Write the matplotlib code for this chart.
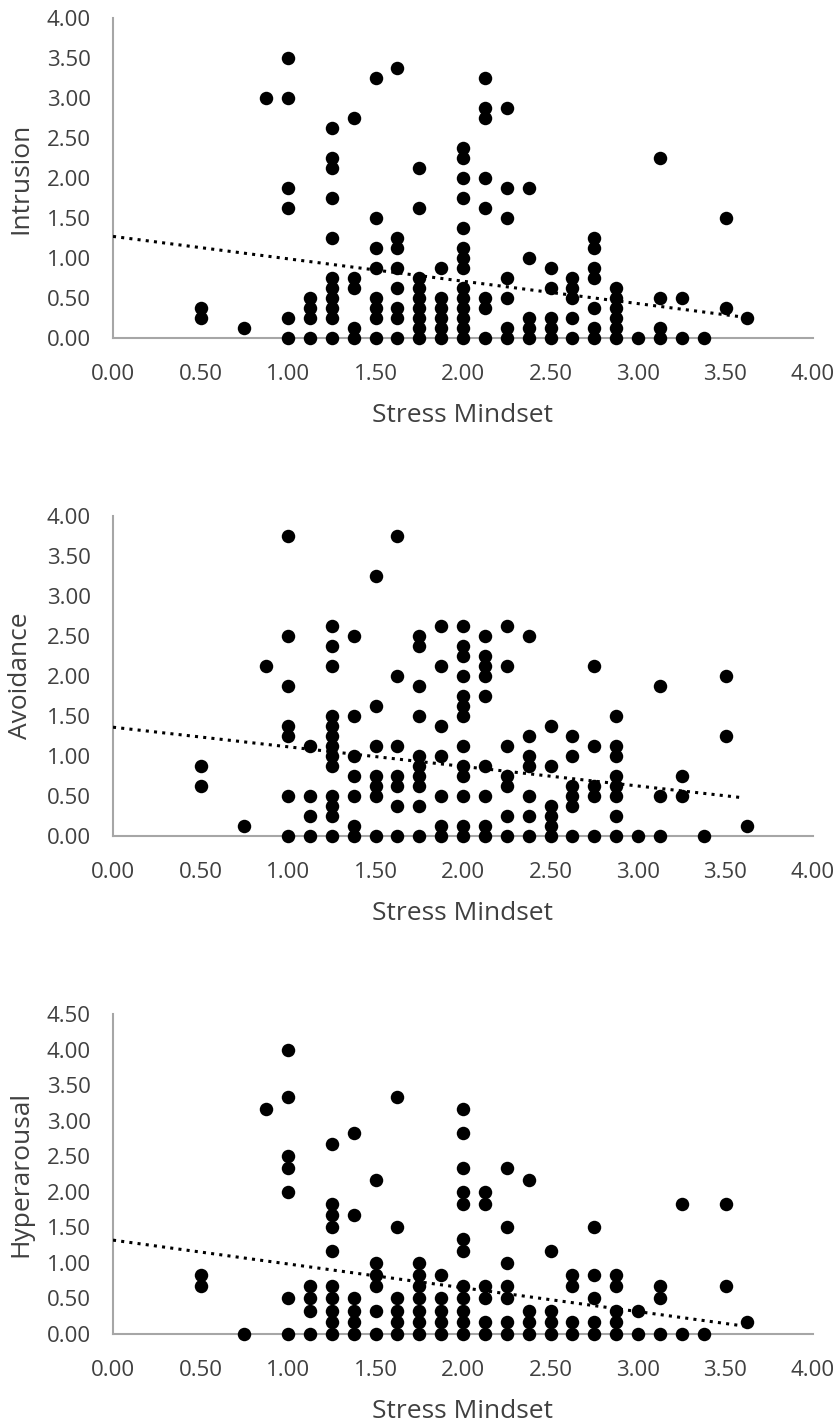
"""
Three scatter panels: Stress Mindset vs. Intrusion / Avoidance / Hyperarousal,
each with a dotted linear trendline (Excel-style).
"""
import numpy as np
import matplotlib.pyplot as plt

plt.rcParams['font.family'] = ['Open Sans', 'DejaVu Sans']

# ── DATA ────────────────────────────────────────────────────────────
# stress mindset levels (x), one list of y values per level
MINDSET = [0.5, 0.75, 0.875, 1.0, 1.125, 1.25, 1.375, 1.5, 1.625, 1.75, 1.875,
           2.0, 2.125, 2.25, 2.375, 2.5, 2.625, 2.75, 2.875, 3.0, 3.125, 3.25,
           3.375, 3.5, 3.625]

INTRUSION = [
    [0.375, 0.25], [0.125], [3.0],
    [3.5, 3.0, 1.875, 1.625, 0.25, 0],
    [0.5, 0.375, 0.25, 0],
    [2.625, 2.25, 2.125, 1.75, 1.25, 0.75, 0.625, 0.5, 0.375, 0.25, 0],
    [2.75, 0.75, 0.625, 0.125, 0],
    [3.25, 1.5, 1.125, 0.875, 0.5, 0.375, 0.25, 0],
    [3.375, 1.25, 1.125, 0.875, 0.625, 0.375, 0.25, 0],
    [2.125, 1.625, 0.75, 0.625, 0.5, 0.375, 0.25, 0.125, 0],
    [0.875, 0.5, 0.375, 0.25, 0.125, 0],
    [2.375, 2.25, 2.0, 1.75, 1.375, 1.125, 1.0, 0.875, 0.625, 0.5, 0.375, 0.25, 0.125, 0],
    [3.25, 2.875, 2.75, 2.0, 1.625, 0.5, 0.375, 0],
    [2.875, 1.875, 1.5, 0.75, 0.5, 0.125, 0],
    [1.875, 1.0, 0.25, 0.125, 0],
    [0.875, 0.625, 0.25, 0.125, 0],
    [0.75, 0.625, 0.5, 0.25, 0],
    [1.25, 1.125, 0.875, 0.75, 0.375, 0.125, 0],
    [0.625, 0.5, 0.375, 0.25, 0.125, 0],
    [0],
    [2.25, 0.5, 0.125, 0],
    [0.5, 0],
    [0],
    [1.5, 0.375],
    [0.25],
]

AVOIDANCE = [
    [0.875, 0.625], [0.125], [2.125],
    [3.75, 2.5, 1.875, 1.375, 1.25, 0.5, 0],
    [1.125, 0.5, 0.25, 0],
    [2.625, 2.375, 2.125, 1.5, 1.375, 1.25, 1.125, 1.0, 0.875, 0.5, 0.375, 0.25, 0],
    [2.5, 1.5, 1.0, 0.75, 0.5, 0.125, 0],
    [3.25, 1.625, 1.125, 0.75, 0.625, 0.5, 0],
    [3.75, 2.0, 1.125, 0.75, 0.625, 0.375, 0],
    [2.5, 2.375, 1.875, 1.5, 1.0, 0.875, 0.75, 0.625, 0.375, 0],
    [2.625, 2.125, 1.375, 1.0, 0.5, 0.125, 0],
    [2.625, 2.375, 2.25, 2.0, 1.75, 1.625, 1.5, 1.125, 0.875, 0.75, 0.5, 0.125, 0],
    [2.5, 2.25, 2.125, 2.0, 1.75, 0.875, 0.5, 0.125, 0],
    [2.625, 2.125, 1.125, 0.75, 0.625, 0.25, 0],
    [2.5, 1.25, 1.0, 0.875, 0.5, 0.25, 0],
    [1.375, 0.875, 0.375, 0.25, 0.125, 0],
    [1.25, 1.0, 0.625, 0.5, 0.375, 0],
    [2.125, 1.125, 0.625, 0.5, 0],
    [1.5, 1.125, 1.0, 0.75, 0.625, 0.5, 0.25, 0],
    [0],
    [1.875, 0.5, 0],
    [0.75, 0.5],
    [0],
    [2.0, 1.25],
    [0.125],
]

HYPERAROUSAL = [
    [0.83, 0.67], [0], [3.17],
    [4.0, 3.33, 2.5, 2.33, 2.0, 0.5, 0],
    [0.67, 0.5, 0.33, 0],
    [2.67, 1.83, 1.67, 1.5, 1.17, 0.67, 0.5, 0.33, 0.17, 0],
    [2.83, 1.67, 0.5, 0.33, 0.17, 0],
    [2.17, 1.0, 0.83, 0.67, 0.33, 0],
    [3.33, 1.5, 0.5, 0.33, 0.17, 0],
    [1.0, 0.83, 0.67, 0.5, 0.33, 0.17, 0],
    [0.83, 0.5, 0.33, 0.17, 0],
    [3.17, 2.83, 2.33, 2.0, 1.83, 1.33, 1.17, 0.67, 0.5, 0.33, 0.17, 0],
    [2.0, 1.83, 0.67, 0.5, 0.17, 0],
    [2.33, 1.5, 1.0, 0.67, 0.5, 0.17, 0],
    [2.17, 0.33, 0.17, 0],
    [1.17, 0.33, 0.17, 0],
    [0.83, 0.67, 0.17, 0],
    [1.5, 0.83, 0.5, 0.17, 0],
    [0.83, 0.67, 0.33, 0.17, 0],
    [0.33, 0],
    [0.67, 0.5, 0],
    [1.83, 0],
    [0],
    [1.83, 0.67],
    [0.17],
]

# linear trendlines: (intercept, slope)
TREND_INTRUSION    = (1.27, -0.28)
TREND_AVOIDANCE    = (1.36, -0.245)
TREND_HYPERAROUSAL = (1.32, -0.335)
TREND_X = [0.0, 3.6]

YLABELS = ["Intrusion", "Avoidance", "Hyperarousal"]
YMAX    = [4.0, 4.0, 4.5]
# ────────────────────────────────────────────────────────────────────

W, H = 839, 1423
AX_LEFT, AX_W, AX_H = 113, 700, 320
AX_BOTTOMS = [338, 836, 1334]      # pixel row of each x axis
TEXT = "#404040"
SPINE = "#a6a6a6"


def flatten(levels, groups):
    xs, ys = [], []
    for x, vals in zip(levels, groups):
        xs.extend([x] * len(vals))
        ys.extend(vals)
    return np.array(xs), np.array(ys)


def draw_panel(fig, bottom_px, groups, trend, ylabel, ymax):
    ax = fig.add_axes([AX_LEFT / W, 1 - bottom_px / H, AX_W / W, AX_H / H])
    xs, ys = flatten(MINDSET, groups)

    ax.plot(xs, ys, "o", color="black", ms=9.7, mec="none", clip_on=False, zorder=3)

    b0, b1 = trend
    tx = np.array(TREND_X)
    ax.plot(tx, b0 + b1 * tx, color="black", lw=2.2, ls=(0, (1, 1.7)), zorder=2)

    ax.set_xlim(0, 4)
    ax.set_ylim(0, ymax)
    ax.set_xticks(np.arange(0, 4.01, 0.5))
    ax.set_yticks(np.arange(0, ymax + 0.01, 0.5))
    ax.xaxis.set_major_formatter(plt.FormatStrFormatter("%.2f"))
    ax.yaxis.set_major_formatter(plt.FormatStrFormatter("%.2f"))
    ax.tick_params(length=0, labelsize=16, colors=TEXT)
    ax.tick_params(axis="x", pad=19)
    ax.tick_params(axis="y", pad=16)

    for side in ("top", "right"):
        ax.spines[side].set_visible(False)
    for side in ("left", "bottom"):
        ax.spines[side].set_color(SPINE)
        ax.spines[side].set_linewidth(1.5)
        ax.spines[side].set_zorder(1)

    ax.set_xlabel("Stress Mindset", fontsize=19, color=TEXT, labelpad=13)
    ax.set_ylabel(ylabel, fontsize=19, color=TEXT)
    # anchor is the right-hand edge of the rotated label
    ax.yaxis.set_label_coords(-(AX_LEFT - 33) / AX_W, 0.5)
    return ax


def main():
    fig = plt.figure(figsize=(W / 100, H / 100), dpi=100)
    datasets = [INTRUSION, AVOIDANCE, HYPERAROUSAL]
    trends = [TREND_INTRUSION, TREND_AVOIDANCE, TREND_HYPERAROUSAL]
    for bottom, groups, trend, label, ymax in zip(AX_BOTTOMS, datasets, trends, YLABELS, YMAX):
        draw_panel(fig, bottom, groups, trend, label, ymax)
    fig.savefig("out.png", dpi=100)
    plt.close(fig)


if __name__ == "__main__":
    main()
